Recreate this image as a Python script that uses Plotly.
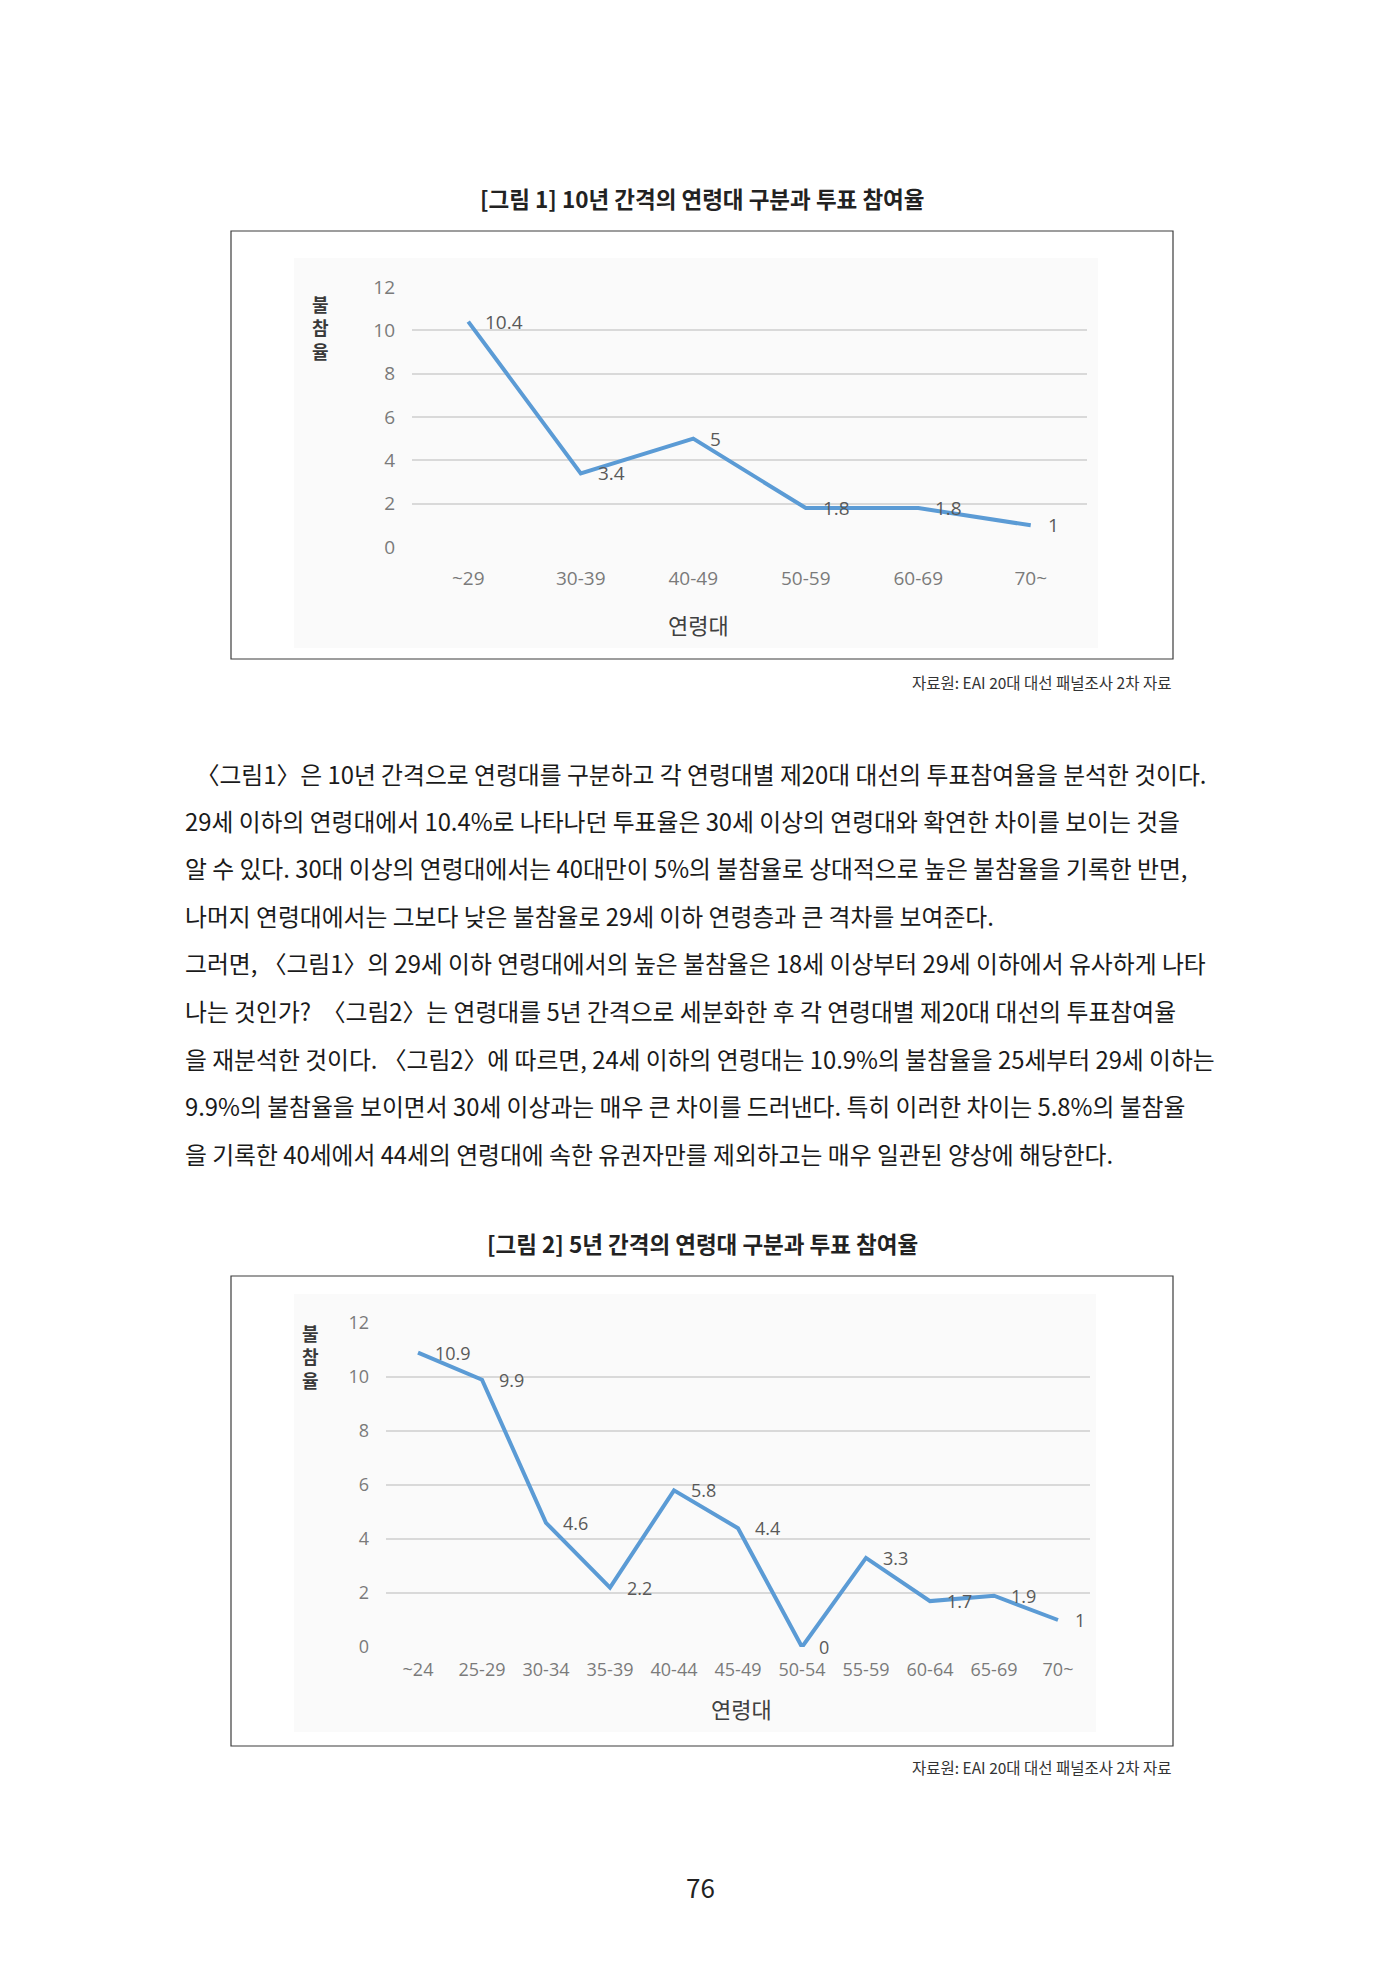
import plotly.graph_objects as go

W, H = 1400, 1980

# ---------------- data ----------------
ages_10 = ["~29", "30-39", "40-49", "50-59", "60-69", "70~"]
nonvote_10 = [10.4, 3.4, 5, 1.8, 1.8, 1]

ages_5 = ["~24", "25-29", "30-34", "35-39", "40-44", "45-49",
          "50-54", "55-59", "60-64", "65-69", "70~"]
nonvote_5 = [10.9, 9.9, 4.6, 2.2, 5.8, 4.4, 0, 3.3, 1.7, 1.9, 1]

y_ticks = [0, 2, 4, 6, 8, 10, 12]

title_1 = "[그림 1] 10년 간격의 연령대 구분과 투표 참여율"
title_2 = "[그림 2] 5년 간격의 연령대 구분과 투표 참여율"
source_text = "자료원: EAI 20대 대선 패널조사 2차 자료"
x_title = "연령대"
y_title = "불참율"
page_no = "76"

body_lines = [
    "  〈그림1〉은 10년 간격으로 연령대를 구분하고 각 연령대별 제20대 대선의 투표참여율을 분석한 것이다.",
    "29세 이하의 연령대에서 10.4%로 나타나던 투표율은 30세 이상의 연령대와 확연한 차이를 보이는 것을",
    "알 수 있다. 30대 이상의 연령대에서는 40대만이 5%의 불참율로 상대적으로 높은 불참율을 기록한 반면,",
    "나머지 연령대에서는 그보다 낮은 불참율로 29세 이하 연령층과 큰 격차를 보여준다.",
    "그러면, 〈그림1〉의 29세 이하 연령대에서의 높은 불참율은 18세 이상부터 29세 이하에서 유사하게 나타",
    "나는 것인가?  〈그림2〉는 연령대를 5년 간격으로 세분화한 후 각 연령대별 제20대 대선의 투표참여율",
    "을 재분석한 것이다. 〈그림2〉에 따르면, 24세 이하의 연령대는 10.9%의 불참율을 25세부터 29세 이하는",
    "9.9%의 불참율을 보이면서 30세 이상과는 매우 큰 차이를 드러낸다. 특히 이러한 차이는 5.8%의 불참율",
    "을 기록한 40세에서 44세의 연령대에 속한 유권자만를 제외하고는 매우 일관된 양상에 해당한다.",
]

FONT = "Noto Sans CJK KR"
NUM_FONT = "Open Sans, Noto Sans CJK KR"
LINE_C = "#5B9BD5"
GRID_C = "#d9d9d9"
TICK_C = "#7a7a7a"
LABEL_C = "#595959"


def px(x):
    return x / W


def py(y):
    return 1 - y / H


def paper_text(x, y, text, size, color, family=FONT, xanchor="center", **kw):
    return dict(x=px(x), y=py(y), xref="paper", yref="paper", text=text,
                showarrow=False, xanchor=xanchor, yanchor="middle",
                font=dict(family=family, size=size, color=color), **kw)


fig = go.Figure()

fig.add_trace(go.Scatter(
    x=ages_10, y=nonvote_10, mode="lines",
    line=dict(color=LINE_C, width=4),
    xaxis="x", yaxis="y", hoverinfo="skip", showlegend=False))
fig.add_trace(go.Scatter(
    x=ages_5, y=nonvote_5, mode="lines",
    line=dict(color=LINE_C, width=4),
    xaxis="x2", yaxis="y2", hoverinfo="skip", showlegend=False))

annotations = []
shapes = []

# data labels
for c, v in zip(ages_10, nonvote_10):
    annotations.append(dict(x=c, y=v, xref="x", yref="y", text=f"{v:g}",
                            showarrow=False, xanchor="left", yanchor="middle",
                            xshift=15, font=dict(family=NUM_FONT, size=19, color=LABEL_C)))
for c, v in zip(ages_5, nonvote_5):
    annotations.append(dict(x=c, y=v, xref="x2", yref="y2", text=f"{v:g}",
                            showarrow=False, xanchor="left", yanchor="middle",
                            xshift=15, font=dict(family=NUM_FONT, size=18, color=LABEL_C)))

# chart frames and soft backgrounds
for (x0, y0, x1, y1) in [(231, 231, 1173, 659), (231, 1276, 1173, 1746)]:
    shapes.append(dict(type="rect", xref="paper", yref="paper",
                       x0=px(x0), x1=px(x1), y0=py(y1), y1=py(y0),
                       line=dict(color="#3c3c3c", width=1.2),
                       fillcolor="rgba(0,0,0,0)", layer="below"))
for (x0, y0, x1, y1) in [(294, 258, 1098, 648), (294, 1294, 1096, 1732)]:
    shapes.append(dict(type="rect", xref="paper", yref="paper",
                       x0=px(x0), x1=px(x1), y0=py(y1), y1=py(y0),
                       line=dict(width=0), fillcolor="#fafafa", layer="below"))

# titles
annotations.append(paper_text(702, 198, f"<b>{title_1}</b>", 22.5, "#222222"))
annotations.append(paper_text(702, 1243, f"<b>{title_2}</b>", 22.5, "#222222"))

# sources
for yy in (682, 1767):
    annotations.append(paper_text(1173, yy, source_text, 15.5, "#333333", xanchor="right"))

# axis titles
annotations.append(paper_text(698, 624, x_title, 22, "#404040"))
annotations.append(paper_text(741, 1708, x_title, 22, "#404040"))
stacked = "<br>".join(f"<b>{ch}</b>" for ch in y_title)
annotations.append(paper_text(320, 327, stacked, 18, "#3a3a3a"))
annotations.append(paper_text(310, 1356, stacked, 18, "#3a3a3a"))

# body text
line_y0, line_dy = 773, 47.5
for i, t in enumerate(body_lines):
    annotations.append(paper_text(183, line_y0 + i * line_dy,
                                  t.replace("  ", "&nbsp;&nbsp;"), 23.8, "#1a1a1a",
                                  xanchor="left"))

# page number
annotations.append(paper_text(700, 1886, page_no, 26, "#222222"))

fig.update_layout(
    width=W, height=H,
    margin=dict(l=0, r=0, t=0, b=0, pad=0, autoexpand=False),
    paper_bgcolor="white", plot_bgcolor="rgba(0,0,0,0)",
    showlegend=False,
    xaxis=dict(domain=[px(412), px(1087)], anchor="y", type="category",
               range=[-0.5, len(ages_10) - 0.5], showgrid=False, showline=False,
               zeroline=False, ticks="", ticklabelstandoff=18, automargin=False,
               tickfont=dict(family=NUM_FONT, size=19, color=TICK_C)),
    yaxis=dict(domain=[py(547), py(287)], anchor="x", range=[0, 12],
               tickvals=y_ticks, gridcolor=GRID_C, gridwidth=1.5,
               showline=False, zeroline=False, showgrid=True,
               ticks="", ticklabelstandoff=16, automargin=False,
               tickfont=dict(family=NUM_FONT, size=19, color=TICK_C)),
    xaxis2=dict(domain=[px(386), px(1090)], anchor="y2", type="category",
                range=[-0.5, len(ages_5) - 0.5], showgrid=False, showline=False,
                zeroline=False, ticks="", ticklabelstandoff=10, automargin=False,
                tickfont=dict(family=NUM_FONT, size=18, color=TICK_C)),
    yaxis2=dict(domain=[py(1647), py(1323)], anchor="x2", range=[0, 12],
                tickvals=y_ticks, gridcolor=GRID_C, gridwidth=1.5,
                showline=False, zeroline=False, showgrid=True,
                ticks="", ticklabelstandoff=16, automargin=False,
                tickfont=dict(family=NUM_FONT, size=18, color=TICK_C)),
    annotations=annotations,
    shapes=shapes,
)

fig.write_html("out.html")
